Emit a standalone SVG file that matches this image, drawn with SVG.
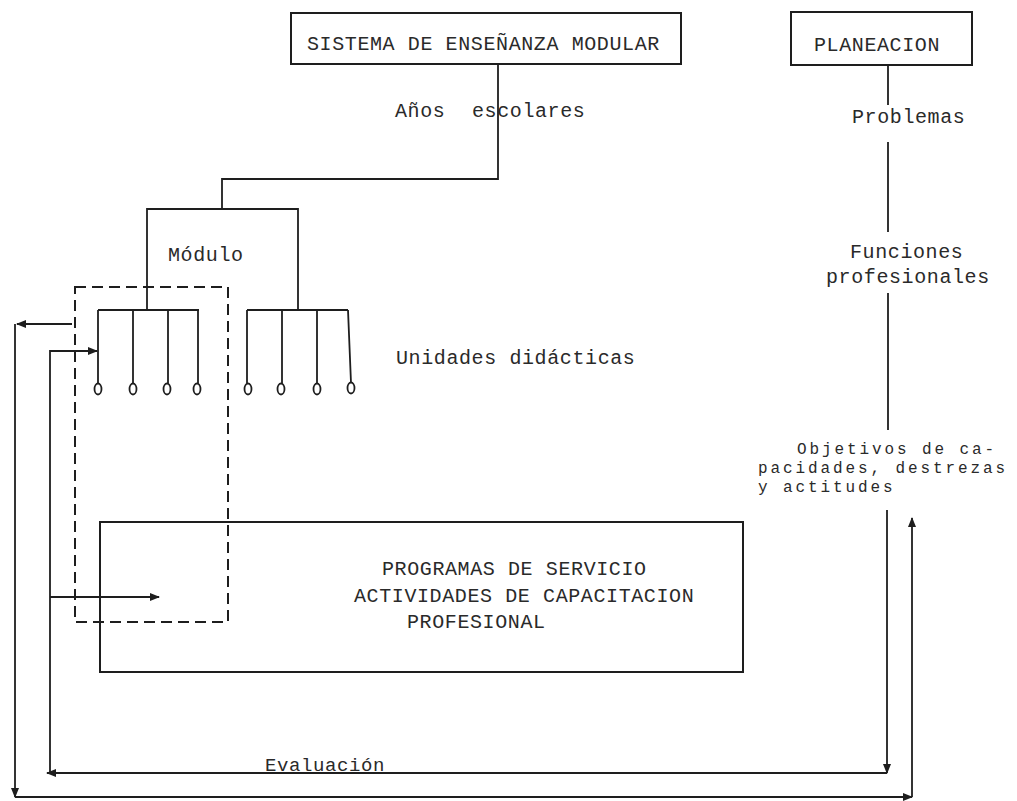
<svg xmlns="http://www.w3.org/2000/svg" width="1017" height="801" viewBox="0 0 1017 801">
<style>
.t{font-family:"Liberation Mono","DejaVu Sans Mono",monospace;font-size:20px;fill:#2a2a2a;letter-spacing:0.6px}
.s{font-size:16px;letter-spacing:2.9px}
.box{fill:none;stroke:#1e1e1e;stroke-width:2}
.ln{fill:none;stroke:#1e1e1e;stroke-width:1.8}
.dash{fill:none;stroke:#1e1e1e;stroke-width:2;stroke-dasharray:11 6}
</style>
<defs>
<marker id="ah" viewBox="0 0 10 8" refX="9" refY="4" markerWidth="10" markerHeight="8" markerUnits="userSpaceOnUse" orient="auto">
<path d="M0,0 L10,4 L0,8 Z" fill="#1e1e1e"/>
</marker>
</defs>
<rect width="1017" height="801" fill="#ffffff"/>
<g id="sistema">
<rect class="box" x="291" y="13" width="390" height="51"/>
<text class="t" x="307" y="50">SISTEMA DE ENSEÑANZA MODULAR</text>
</g>
<g id="planeacion">
<rect class="box" x="791" y="12" width="181" height="53"/>
<text class="t" x="814" y="51">PLANEACION</text>
</g>
<g id="anos">
<text class="t" x="395" y="117">Años</text>
<text class="t" x="472" y="117">escolares</text>
</g>
<g id="modulo">
<text class="t" x="168" y="261">Módulo</text>
</g>
<g id="unidades">
<text class="t" x="396" y="364">Unidades didácticas</text>
<g class="ln">
<path d="M98,310 H199 M98,310 V383 M133,310 V383 M168,310 V383 M198,310 V383"/>
<path d="M247,310 H348 M247,310 V383 M282,310 V383 M317,310 V383 M348,310 L351,383"/>
<ellipse cx="98" cy="389" rx="3.5" ry="5.5"/>
<ellipse cx="133" cy="389" rx="3.5" ry="5.5"/>
<ellipse cx="167" cy="389" rx="3.5" ry="5.5"/>
<ellipse cx="197" cy="389" rx="3.5" ry="5.5"/>
<ellipse cx="248" cy="389" rx="3.5" ry="5.5"/>
<ellipse cx="281" cy="389" rx="3.5" ry="5.5"/>
<ellipse cx="317" cy="389" rx="3.5" ry="5.5"/>
<ellipse cx="351" cy="388" rx="3.5" ry="5.5"/>
</g>
</g>
<g id="problemas">
<text class="t" x="852" y="123">Problemas</text>
</g>
<g id="funciones">
<text class="t" x="850" y="258">Funciones</text>
<text class="t" x="826" y="283">profesionales</text>
</g>
<g id="objetivos">
<text class="t s" x="797" y="454">Objetivos de ca-</text>
<text class="t s" x="758" y="473">pacidades, destrezas</text>
<text class="t s" x="758" y="492">y actitudes</text>
</g>
<g id="programas">
<rect class="box" x="100" y="522" width="643" height="150"/>
<text class="t" x="382" y="575">PROGRAMAS DE SERVICIO</text>
<text class="t" x="354" y="602">ACTIVIDADES DE CAPACITACION</text>
<text class="t" x="407" y="628">PROFESIONAL</text>
</g>
<g id="modulo-seleccion">
<rect class="dash" x="75" y="287" width="153" height="335"/>
</g>
<g id="evaluacion">
<text class="t" x="265" y="771" style="font-size:19px">Evaluación</text>
</g>
<g id="connectors">
<path class="ln" d="M498,64 V179 H222 V209"/>
<path class="ln" d="M147,309 V209 H298 V309"/>
<path class="ln" d="M888,65 V105 M888,142 V232 M888,293 V430"/>
<path class="ln" d="M72,324 H17" marker-end="url(#ah)"/>
<path class="ln" d="M15,324 V797" marker-end="url(#ah)"/>
<path class="ln" d="M15,797 H912" marker-end="url(#ah)"/>
<path class="ln" d="M912,797 V518" marker-end="url(#ah)"/>
<path class="ln" d="M887,510 V773" marker-end="url(#ah)"/>
<path class="ln" d="M887,773 H47" marker-end="url(#ah)"/>
<path class="ln" d="M50,773 V351 H97" marker-end="url(#ah)"/>
<path class="ln" d="M50,597 H159" marker-end="url(#ah)"/>
</g>
</svg>
